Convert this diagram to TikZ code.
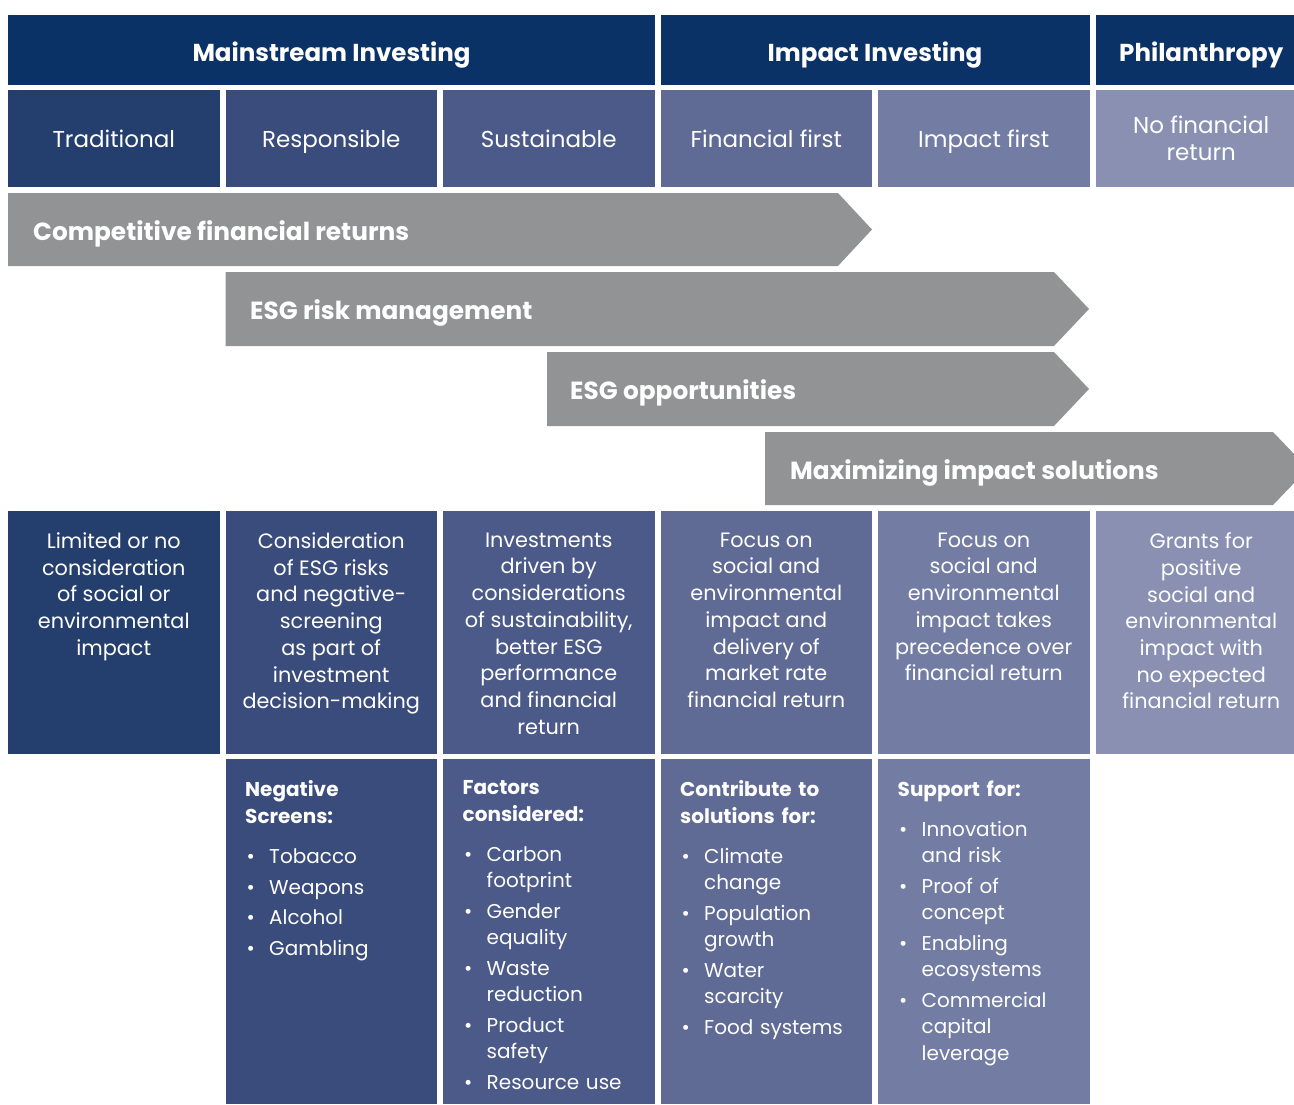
\documentclass[tikz,border=0pt]{standalone}
\usepackage{fontspec}
\setmainfont{Poppins}
\usepackage{xcolor}
\usetikzlibrary{positioning}

\definecolor{navy}{RGB}{11,50,102}
\definecolor{colA}{RGB}{36,62,109}
\definecolor{colB}{RGB}{58,76,123}
\definecolor{colC}{RGB}{75,90,136}
\definecolor{colD}{RGB}{95,106,149}
\definecolor{colE}{RGB}{115,125,163}
\definecolor{colF}{RGB}{137,144,178}
\definecolor{bandgray}{RGB}{146,147,149}

\newcommand{\bul}{\makebox[24pt][l]{\hspace{1.5pt}•}}
\newcommand{\cont}{\hspace*{24pt}}

\tikzset{
    head/.style={fill=navy, text=white, font=\fontsize{24.5}{28}\selectfont\bfseries,
        minimum height=70pt, inner sep=0pt, text height=22pt, text depth=0pt},
    kindbox/.style={text=white, font=\fontsize{23}{27}\selectfont, align=center,
        minimum width=211.5pt, minimum height=96.5pt, inner sep=0pt},
    kind/.style={kindbox, text height=17.5pt, text depth=0pt},
    band/.style={fill=bandgray},
    bandtext/.style={text=white, font=\fontsize{24.8}{28}\selectfont\bfseries,
        anchor=west, inner sep=0pt, text height=21pt, text depth=0pt},
    descbox/.style={minimum width=211.5pt, minimum height=242.5pt, inner sep=0pt},
    desctext/.style={text=white, font=\fontsize{20.8}{26.7}\selectfont, align=center,
        anchor=north, inner sep=0pt},
    listbox/.style={minimum width=211.5pt, minimum height=345pt, inner sep=0pt},
    listtext/.style={text=white, font=\fontsize{20}{26.3}\selectfont, align=left,
        text width=190pt, anchor=north west, inner sep=0pt}
}

\begin{document}
\begin{tikzpicture}[x=1pt, y=-1pt]
    \clip (0,0) rectangle (1294,1104);

    % First, the three headings on top
        \node[head, minimum width=647pt] (mainstream) at (331.5,50) {Mainstream Investing};
        \node[head, minimum width=429pt] (impactinv) at (875,50) {Impact Investing};
        \node[head, minimum width=211.5pt] (philanthropy) at (1201.25,50) {Philanthropy};

    % Now the six kinds below them
        \node[kind, fill=colA] (trad) at (113.75,138.25) {Traditional};
        \node[kind, fill=colB] (resp) at (331.25,138.25) {Responsible};
        \node[kind, fill=colC] (sust) at (548.75,138.25) {Sustainable};
        \node[kind, fill=colD] (finfirst) at (766.25,138.25) {Financial first};
        \node[kind, fill=colE] (impfirst) at (983.75,138.25) {Impact first};
        \node[kindbox, fill=colF] (nofin) at (1201.25,138.25) {No financial\\return};

    % The grey bands
        \fill[band] (8,193) -- (838,193) -- (872,229.5) -- (838,266) -- (8,266) -- cycle;
        \node[bandtext] (returns) at (33,229.5) {Competitive financial returns};
        \fill[band] (225.5,272) -- (1054,272) -- (1089,309) -- (1054,346) -- (225.5,346) -- cycle;
        \node[bandtext] (esgrisk) at (250,309) {ESG risk management};
        \fill[band] (547,352) -- (1054,352) -- (1089,389) -- (1054,426) -- (547,426) -- cycle;
        \node[bandtext] (esgopp) at (570,389) {ESG opportunities};
        \fill[band] (765,432) -- (1273,432) -- (1308,468.5) -- (1273,505) -- (765,505) -- cycle;
        \node[bandtext] (maximizing) at (790,468.5) {Maximizing impact solutions};

    % Descriptions
        \node[descbox, fill=colA] (dtrad) at (113.75,632.25) {};
        \node[descbox, fill=colB] (dresp) at (331.25,632.25) {};
        \node[descbox, fill=colC] (dsust) at (548.75,632.25) {};
        \node[descbox, fill=colD] (dfinfirst) at (766.25,632.25) {};
        \node[descbox, fill=colE] (dimpfirst) at (983.75,632.25) {};
        \node[descbox, fill=colF] (dnofin) at (1201.25,632.25) {};

        \node[desctext] (ttrad) at (113.75,532.5) {Limited or no\\consideration\\of social or\\environmental\\impact};
        \node[desctext] (tresp) at (331.25,532.5) {Consideration\\of ESG risks\\and negative-\\screening\\as part of\\investment\\decision-making};
        \node[desctext] (tsust) at (548.75,532.5) {Investments\\driven by\\considerations\\of sustainability,\\better ESG\\performance\\and financial\\return};
        \node[desctext] (tfinfirst) at (766.25,532.5) {Focus on\\social and\\environmental\\impact and\\delivery of\\market rate\\financial return};
        \node[desctext] (timpfirst) at (983.75,532.5) {Focus on\\social and\\environmental\\impact takes\\precedence over\\financial return};
        \node[desctext] (tnofin) at (1201.25,532.5) {Grants for\\positive\\social and\\environmental\\impact with\\no expected\\financial return};

    % Lists at the bottom
        \node[listbox, fill=colB] (lresp) at (331.25,931.5) {};
        \node[listbox, fill=colC] (lsust) at (548.75,931.5) {};
        \node[listbox, fill=colD] (lfinfirst) at (766.25,931.5) {};
        \node[listbox, fill=colE] (limpfirst) at (983.75,931.5) {};

        \node[listtext] (ntresp) at (245,780.5) {{\bfseries Negative\\Screens:}\\[14pt]
            \bul Tobacco\\[4.4pt]
            \bul Weapons\\[4.4pt]
            \bul Alcohol\\[4.4pt]
            \bul Gambling};
        \node[listtext] (ntsust) at (462.5,780.5) {{\bfseries Factors\\considered:}\\[14pt]
            \bul Carbon\\ \cont footprint\\[4.4pt]
            \bul Gender\\ \cont equality\\[4.4pt]
            \bul Waste\\ \cont reduction\\[4.4pt]
            \bul Product\\ \cont safety\\[4.4pt]
            \bul Resource use};
        \node[listtext] (ntfinfirst) at (680,780.5) {{\bfseries Contribute to\\solutions for:}\\[14pt]
            \bul Climate\\ \cont change\\[4.4pt]
            \bul Population\\ \cont growth\\[4.4pt]
            \bul Water\\ \cont scarcity\\[4.4pt]
            \bul Food systems};
        \node[listtext] (ntimpfirst) at (897.5,780.5) {{\bfseries Support for:}\\[14pt]
            \bul Innovation\\ \cont and risk\\[4.4pt]
            \bul Proof of\\ \cont concept\\[4.4pt]
            \bul Enabling\\ \cont ecosystems\\[4.4pt]
            \bul Commercial\\ \cont capital\\ \cont leverage};
\end{tikzpicture}
\end{document}
